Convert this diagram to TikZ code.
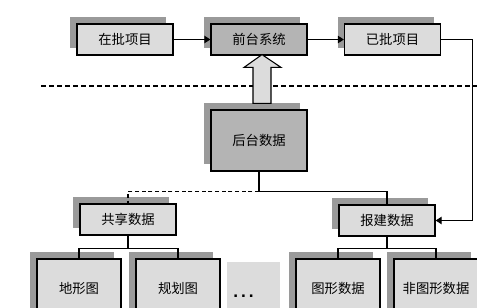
\documentclass[tikz,border=0pt]{standalone}
\usepackage{fontspec}
\setmainfont{Noto Sans CJK SC}
\newfontfamily\latinbold{Liberation Sans}
\usetikzlibrary{shadows,calc,arrows.meta}
\definecolor{lightbox}{HTML}{DCDCDC}
\definecolor{darkbox}{HTML}{B4B4B4}
\definecolor{shadowgray}{HTML}{9A9A9A}
\begin{document}
\begin{tikzpicture}[x=0.75pt,y=-0.75pt,
  box/.style={draw=black, line width=0.9pt, fill=lightbox, minimum width=72pt, minimum height=23.25pt,
    inner sep=0pt, font=\fontsize{10}{12}\selectfont,
    general shadow={shadow xshift=-5.25pt, shadow yshift=5.25pt, fill=shadowgray}},
  darkbx/.style={box, fill=darkbox},
  leafbox/.style={box, minimum width=63pt, minimum height=44.25pt},
  conn/.style={line width=0.9pt},
  arr/.style={conn, -{Triangle[length=4.5pt,width=5.5pt]}}
]
\clip (0,0) rectangle (477,307);
\fill[white] (0,0) rectangle (477,307);

% top row
\node[box]    (zai) at (125,39.5) {在批项目};
\node[darkbx] (qian) at (259,39.5) {前台系统};
\node[box]    (yi) at (392.5,39.5) {已批项目};

% dashed separator
\coordinate (sepL) at (41,86);
\coordinate (sepR) at (477,86);
\draw[line width=0.8pt, dash pattern=on 3.5pt off 2.5pt] (sepL) -- (sepR);

% back-end data
\node[darkbx, minimum height=45.75pt] (ht) at (259,140.5) {后台数据};

% second level
\node[box] (gx) at (128,219.5) {共享数据};
\node[box] (bj) at (387,220.5) {报建数据};

% leaves
\node[leafbox] (dx) at (79,288.5) {地形图};
\node[leafbox] (gh) at (178,288.5) {规划图};
\node[fill=lightbox, minimum width=39.75pt, minimum height=42pt, inner sep=0pt] (dots) at (253.5,290) {};
\node[font=\latinbold\bfseries\fontsize{13}{14}\selectfont, inner sep=0pt, anchor=base] (dotstext) at (243.5,297) {.\,.\,.};
\node[leafbox] (tx) at (338,288.5) {图形数据};
\node[leafbox] (ftx) at (436,288.5) {非图形数据};

% hollow arrow from back-end to front-end
\draw[line width=0.8pt, fill=lightbox]
  ($(ht.north)+(-6,-6)$) -- ($(ht.north)+(12,-6)$) -- ($(ht.north)+(12,-42)$)
  -- ($(ht.north)+(22,-42)$) -- ($(qian.south)+(3,-1)$) -- ($(ht.north)+(-15,-42)$)
  -- ($(ht.north)+(-6,-42)$) -- cycle;

% connectors
\draw[arr] (zai) -- (qian);
\draw[arr] (qian) -- (yi);
\draw[arr] (yi.east) -- ++(31,0) |- (bj.east);

\draw[conn] (ht.south) -- ++(0,20) coordinate (j1);
\draw[conn] (j1) -| (bj.north);
\draw[conn, dash pattern=on 3pt off 2pt] (j1) -| (gx.north);

\draw[conn] (gx.south) -- ++(0,13) coordinate (j2);
\draw[conn] (j2) -| (dx.north);
\draw[conn] (j2) -| (gh.north);

\draw[conn] (bj.south) -- ++(0,12) coordinate (j3);
\draw[conn] (j3) -| (tx.north);
\draw[conn] (j3) -| (ftx.north);
\end{tikzpicture}
\end{document}
